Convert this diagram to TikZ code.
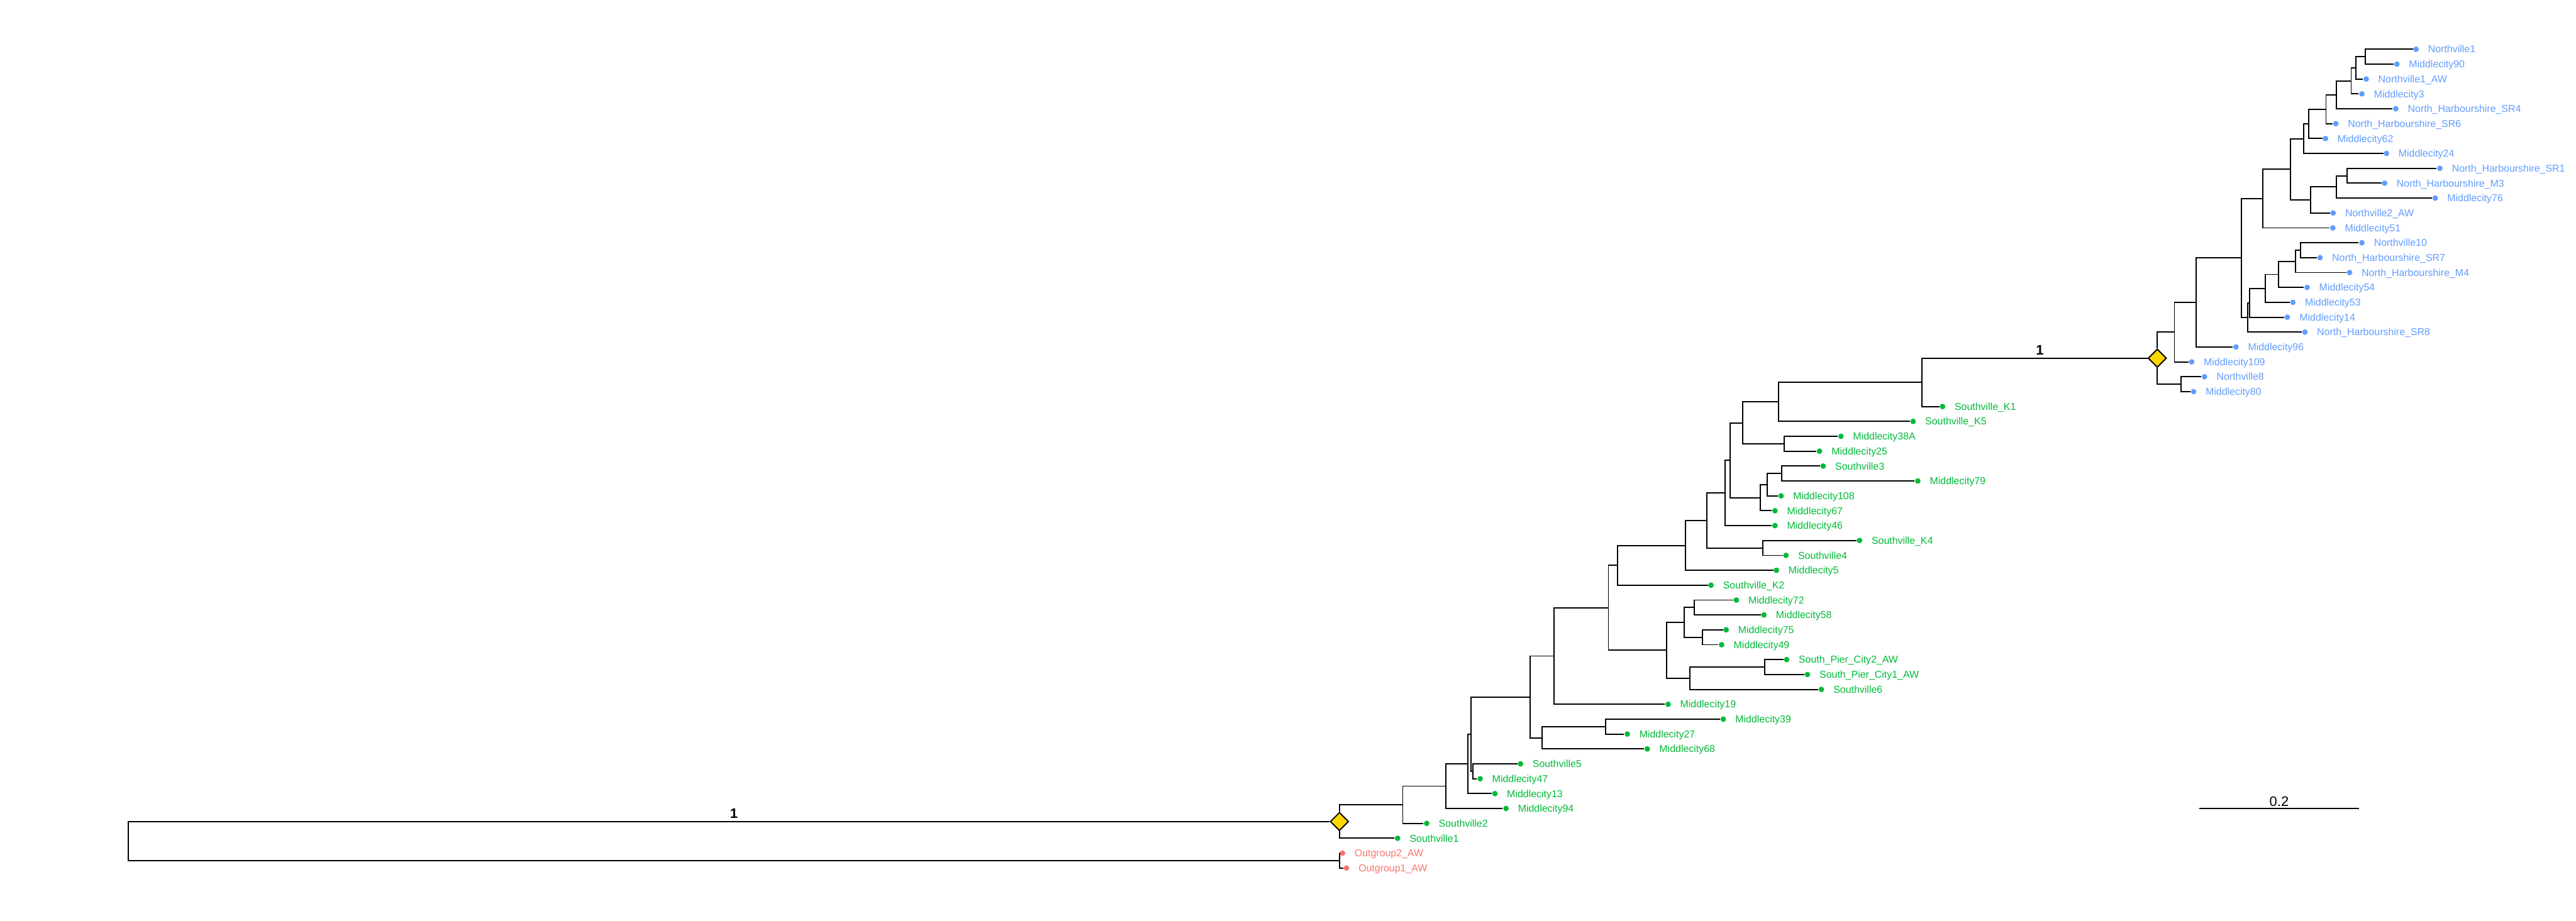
\documentclass[tikz,border=0pt]{standalone}
\usepackage{fontspec}
\setmainfont{Liberation Sans}
\usetikzlibrary{shapes.geometric}
\definecolor{NorthBlue}{HTML}{619CFF}
\definecolor{SouthGreen}{HTML}{00BA38}
\definecolor{OutRed}{HTML}{F8766D}
\definecolor{NodeGold}{RGB}{255,215,0}
\tikzset{
  branch/.style={draw=black,line width=0.55pt},
  tipdot/.style={circle,fill=#1,inner sep=0pt,minimum size=0.09cm},
  tiplabel/.style={anchor=base west,text=#1,inner sep=0pt,xshift=0.19cm,
    yshift=-0.058cm,font=\fontsize{4.65}{5}\selectfont},
  support/.style={diamond,draw=black,fill=NodeGold,line width=0.55pt,
    inner sep=0pt,minimum width=0.3cm,minimum height=0.3cm},
  bootval/.style={above,inner sep=1.4pt,font=\fontsize{6.4}{7}\selectfont\bfseries},
}

\begin{document}
\begin{tikzpicture}[x=0.01cm,y=-0.2428cm]
  \useasboundingbox (0,-3.307) rectangle (4202,58.555);

  % Tips, one row each: the northern clade
  \foreach \i/\x/\name in {0/3941.0/Northville1, 1/3909.8/Middlecity90,
      2/3859.8/Northville1\_AW, 3/3852.7/Middlecity3,
      4/3908.0/North\_Harbourshire\_SR4, 5/3810.2/North\_Harbourshire\_SR6,
      6/3793.3/Middlecity62, 7/3892.8/Middlecity24,
      8/3979.9/North\_Harbourshire\_SR1, 9/3889.7/North\_Harbourshire\_M3,
      10/3972.3/Middlecity76, 11/3805.8/Northville2\_AW,
      12/3805.3/Middlecity51, 13/3852.7/Northville10,
      14/3784.4/North\_Harbourshire\_SR7, 15/3832.6/North\_Harbourshire\_M4,
      16/3763.4/Middlecity54, 17/3740.2/Middlecity53,
      18/3731.2/Middlecity14, 19/3759.8/North\_Harbourshire\_SR8,
      20/3647.3/Middlecity96, 21/3575.0/Middlecity109,
      22/3596.0/Northville8, 23/3578.1/Middlecity80}
  {
    \node[tipdot=NorthBlue] (t\i) at (\x,\i) {};
    \node[tiplabel=NorthBlue] (l\i) at (t\i.center) {\name};
  }

  % the southern clade
  \foreach \i/\x/\name in {24/3168.7/Southville\_K1, 25/3120.7/Southville\_K5,
      26/3003.0/Middlecity38A, 27/2968.0/Middlecity25,
      28/2974.0/Southville3, 29/3128.3/Middlecity79,
      30/2905.3/Middlecity108, 31/2895.3/Middlecity67,
      32/2895.3/Middlecity46, 33/3033.3/Southville\_K4,
      34/2913.3/Southville4, 35/2897.7/Middlecity5,
      36/2791.0/Southville\_K2, 37/2832.3/Middlecity72,
      38/2877.3/Middlecity58, 39/2815.7/Middlecity75,
      40/2808.3/Middlecity49, 41/2914.3/South\_Pier\_City2\_AW,
      42/2948.3/South\_Pier\_City1\_AW, 43/2971.0/Southville6,
      44/2721.0/Middlecity19, 45/2811.0/Middlecity39,
      46/2654.5/Middlecity27, 47/2687.0/Middlecity68,
      48/2480.2/Southville5, 49/2414.4/Middlecity47,
      50/2438.5/Middlecity13, 51/2456.5/Middlecity94,
      52/2327.2/Southville2, 53/2279.8/Southville1}
  {
    \node[tipdot=SouthGreen] (t\i) at (\x,\i) {};
    \node[tiplabel=SouthGreen] (l\i) at (t\i.center) {\name};
  }

  % outgroup
  \foreach \i/\x/\name in {54/2189.9/Outgroup2\_AW, 55/2196.4/Outgroup1\_AW}
  {
    \node[tipdot=OutRed] (t\i) at (\x,\i) {};
    \node[tiplabel=OutRed] (l\i) at (t\i.center) {\name};
  }

  % Internal nodes
  \foreach \c/\x/\r in {b1/3858.0/0.5, b2/3842.8/1.25, b3/3835.2/2.125,
      b4/3810.7/3.0625, b5/3794.2/4.031, b6/3766.1/5.016, b7/3758.0/6.008,
      b8/3828.6/8.5, b9/3810.7/9.25, b10/3769.2/10.125, b11/3736.1/8.066,
      b12/3691.1/10.033, b13/3752.7/13.5, b14/3744.6/14.25, b15/3717.0/15.125,
      b16/3695.5/16.0625, b17/3669.6/17.031, b18/3666.1/18.016,
      b19/3655.8/14.024, b20/3582.6/17.012, b21/3546.9/19.006, b22/3558.0/22.5,
      g1/3135.5/22.377, g2/2901.0/23.688, g3/2910.0/26.5, g4/2842.3/25.094,
      g5/2906.0/28.5, g6/2882.3/29.25, g7/2871.0/30.125, g8/2822.0/27.61,
      g9/2814.0/29.805, g10/2875.7/33.5, g11/2784.0/31.65, g12/2749.3/33.33,
      g13/2638.5/34.66, g14/2764.0/37.5, g15/2777.0/39.5, g16/2747.7/38.5,
      g17/2878.3/41.5, g18/2756.7/42.25, g19/2719.0/40.375, g20/2623.6/37.52,
      g21/2535.0/40.76, g22/2618.7/45.5, g23/2515.7/46.25, g24/2496.2/43.505,
      g25/2402.2/48.5, g26/2399.1/46.0, g27/2394.5/48.0, g28/2358.6/49.5,
      g29/2288.2/50.75, og/2184.9/54.5, root/209.3/53.19}
    \coordinate (\c) at (\x,\r);

  \node[support] (broot) at (3519.0,20.753) {};
  \node[support] (groot) at (2184.9,51.875) {};

  % Branches, parent to child
  \foreach \p/\c in {b1/t0, b1/t1, b2/b1, b2/t2, b3/b2, b3/t3, b4/b3, b4/t4,
      b5/b4, b5/t5, b6/b5, b6/t6, b7/b6, b7/t7, b8/t8, b8/t9, b9/b8, b9/t10,
      b10/b9, b10/t11, b11/b7, b11/b10, b12/b11, b12/t12, b13/t13, b13/t14,
      b14/b13, b14/t15, b15/b14, b15/t16, b16/b15, b16/t17, b17/b16, b17/t18,
      b18/b17, b18/t19, b19/b12, b19/b18, b20/b19, b20/t20, b21/b20, b21/t21,
      b22/t22, b22/t23, broot/b21, broot/b22,
      g1/broot, g1/t24, g2/g1, g2/t25, g3/t26, g3/t27, g4/g2, g4/g3,
      g5/t28, g5/t29, g6/g5, g6/t30, g7/g6, g7/t31, g8/g4, g8/g7, g9/g8, g9/t32,
      g10/t33, g10/t34, g11/g9, g11/g10, g12/g11, g12/t35, g13/g12, g13/t36,
      g14/t37, g14/t38, g15/t39, g15/t40, g16/g14, g16/g15, g17/t41, g17/t42,
      g18/g17, g18/t43, g19/g16, g19/g18, g20/g13, g20/g19, g21/g20, g21/t44,
      g22/t45, g22/t46, g23/g22, g23/t47, g24/g21, g24/g23, g25/t48, g25/t49,
      g26/g24, g26/g25, g27/g26, g27/t50, g28/g27, g28/t51, g29/g28, g29/t52,
      groot/g29, groot/t53, og/t54, og/t55, root/groot, root/og}
    \draw[branch] (\p) |- (\c);

  % Support values on the two long branches
  \path (root |- groot) -- (groot.center) node[bootval,midway] (s1) {1};
  \path (g1 |- broot) -- (broot.center) node[bootval,midway] (s2) {1};

  % Scale bar
  \coordinate (sbl) at (3587.7,51);
  \coordinate (sbr) at (3847.7,51);
  \draw[branch] (sbl) -- (sbr)
    node[midway,above,inner sep=0.6pt,font=\fontsize{6.4}{7}\selectfont] (sbt) {0.2};
\end{tikzpicture}
\end{document}
